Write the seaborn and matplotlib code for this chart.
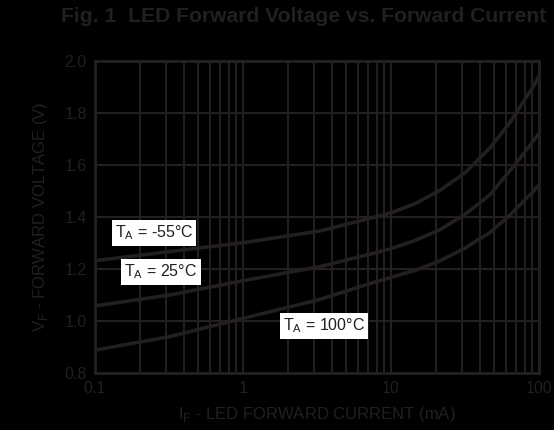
import matplotlib
matplotlib.use("Agg")
import matplotlib.pyplot as plt
import matplotlib.ticker as mticker
import seaborn as sns
import pandas as pd

current_ma = [0.1, 0.32, 1, 3.3, 7.8, 10, 14.6, 21.5, 31.6, 46.5, 63, 91, 100]
vf_m55 = [1.232, 1.267, 1.301, 1.346, 1.400, 1.416, 1.452, 1.503, 1.570, 1.665, 1.760, 1.900, 1.942]
vf_25 = [1.058, 1.100, 1.155, 1.209, 1.262, 1.278, 1.310, 1.352, 1.410, 1.485, 1.575, 1.690, 1.722]
vf_100 = [0.888, 0.940, 1.010, 1.083, 1.150, 1.168, 1.195, 1.232, 1.280, 1.340, 1.405, 1.497, 1.523]
series_names = ["-55", "25", "100"]
x_ticks = [0.1, 1, 10, 100]
x_ticklabels = ["0.1", "1", "10", "100"]
y_ticks = [0.8, 1.0, 1.2, 1.4, 1.6, 1.8, 2.0]

sns.set_style("white")
plt.rcParams['font.family'] = ['Liberation Sans', 'DejaVu Sans']
plt.rcParams['mathtext.fontset'] = 'custom'
plt.rcParams['mathtext.rm'] = 'Liberation Sans'

INK = '#231f20'

rows = []
for name, vals in zip(series_names, [vf_m55, vf_25, vf_100]):
    for i, v in zip(current_ma, vals):
        rows.append({"I": i, "V": v, "T": name})
df = pd.DataFrame(rows)

fig = plt.figure(figsize=(5.54, 4.30), dpi=100, facecolor='black')
ax = fig.add_axes([95/554, 1-373/430, 444/554, 312/430])
ax.set_facecolor('black')

sns.lineplot(data=df, x="I", y="V", units="T", estimator=None, color=INK,
             linewidth=2.6, ax=ax, legend=False, zorder=3)
for ln in ax.lines:
    ln.set_solid_joinstyle('round')

ax.set_xscale('log')
ax.set_xlim(0.1, 100)
ax.set_ylim(0.8, 2.0)
ax.set_xticks(x_ticks)
ax.set_xticklabels(x_ticklabels)
ax.set_yticks(y_ticks)
ax.yaxis.set_major_formatter(mticker.FormatStrFormatter('%.1f'))
ax.xaxis.set_minor_locator(mticker.LogLocator(base=10, subs=range(2, 10)))
ax.xaxis.set_minor_formatter(mticker.NullFormatter())

ax.grid(True, which='major', axis='both', color=INK, linewidth=1.5, zorder=1)
ax.grid(True, which='minor', axis='x', color=INK, linewidth=1.5, zorder=1)
ax.tick_params(axis='both', which='both', length=0, labelsize=11.5, colors=INK, pad=6)
for s in ax.spines.values():
    s.set_color(INK)
    s.set_linewidth(2.2)

ax.set_xlabel(r"I$_\mathregular{F}$ - LED FORWARD CURRENT (mA)", fontsize=12, color=INK, labelpad=6)
ax.set_ylabel(r"V$_\mathregular{F}$ - FORWARD VOLTAGE (V)", fontsize=12, color=INK, labelpad=10)

fig.text(304/554, 1-17/430, "Fig. 1  LED Forward Voltage vs. Forward Current",
         ha='center', va='center', fontsize=15.2, fontweight='bold', color=INK)

box = dict(boxstyle='square,pad=0.2', facecolor='white', edgecolor='none')
labels = [(r"T$_\mathregular{A}$ = -55°C", 154, 233),
          (r"T$_\mathregular{A}$ = 25°C", 161, 272),
          (r"T$_\mathregular{A}$ = 100°C", 324, 326)]
for txt, px, py in labels:
    fig.text(px/554, 1-py/430, txt, ha='center', va='center', fontsize=11.5,
             color=INK, bbox=box, zorder=5)

fig.savefig("out.png", dpi=100, facecolor='black')
